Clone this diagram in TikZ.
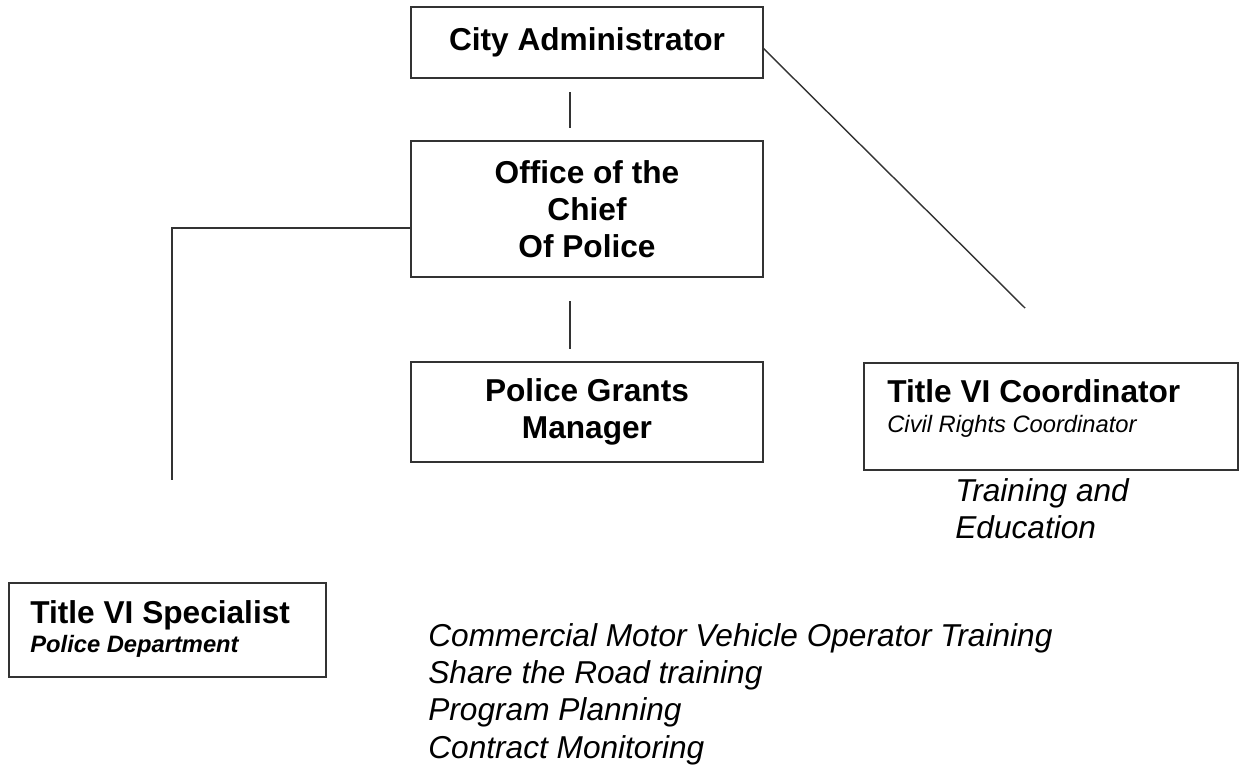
\documentclass[tikz,border=0pt]{standalone}
\usepackage{fontspec}
\setmainfont{Liberation Sans}
\usepackage{tikz}
\usetikzlibrary{positioning}

\tikzset{
  unit/.style={draw=black!80, line width=1pt, minimum width=7.04cm, inner sep=0pt,
    align=center, font=\bfseries\fontsize{18}{21}\selectfont},
  frame/.style={draw=black!80, line width=1pt, inner sep=0pt},
  head/.style={inner sep=0pt, font=\bfseries\fontsize{18}{21}\selectfont},
  sub/.style={inner sep=0pt, font=\itshape\fontsize{13.5}{16}\selectfont},
  note/.style={inner sep=0pt, align=left, anchor=north west, font=\itshape\fontsize{18}{21.2}\selectfont},
  link/.style={draw=black!80, line width=0.8pt}
}

\begin{document}
\begin{tikzpicture}
\useasboundingbox (0,0) rectangle (24.92,-15.32);

% boxes of the chain
\node[unit, minimum height=1.42cm] (city) at (11.74,-0.85) {City Administrator};
\node[unit, minimum height=2.72cm] (chief) at (11.74,-4.18) {Office of the\\Chief\\Of Police};
\node[unit, minimum height=2.00cm] (grants) at (11.74,-8.24) {Police Grants\\Manager};

% side boxes
\node[frame, minimum width=7.48cm, minimum height=2.14cm] (coord) at (21.02,-8.33) {};
\node[head, anchor=base west] (coordtitle) at (17.74,-8.04) {Title VI Coordinator};
\node[sub, anchor=base west] (coordsub) at (17.74,-8.64) {Civil Rights Coordinator};

\node[frame, minimum width=6.34cm, minimum height=1.88cm] (spec) at (3.35,-12.60) {};
\node[head, anchor=base west] (spectitle) at (0.60,-12.46) {Title VI Specialist};
\node[sub, font=\bfseries\itshape\fontsize{13.5}{16}\selectfont, anchor=base west] (specsub) at (0.60,-13.04) {Police Department};

% notes
\node[note] (training) at (19.10,-9.56) {Training and\\Education};
\node[note] (tasks) at (8.56,-12.46) {Commercial Motor Vehicle Operator Training\\Share the Road training\\Program Planning\\Contract Monitoring};

% connectors
\coordinate (c1) at (11.40,-1.84);
\coordinate (c2) at (11.40,-2.56);
\coordinate (c3) at (11.40,-6.02);
\coordinate (c4) at (11.40,-6.98);
\coordinate (c5) at (8.22,-4.56);
\coordinate (c6) at (3.44,-9.60);
\coordinate (c7) at (15.26,-0.96);
\coordinate (c8) at (20.50,-6.16);

\draw[link] (c1) -- (c2);
\draw[link] (c3) -- (c4);
\draw[link] (c5) -| (c6);
\draw[link] (c7) -- (c8);
\end{tikzpicture}
\end{document}
